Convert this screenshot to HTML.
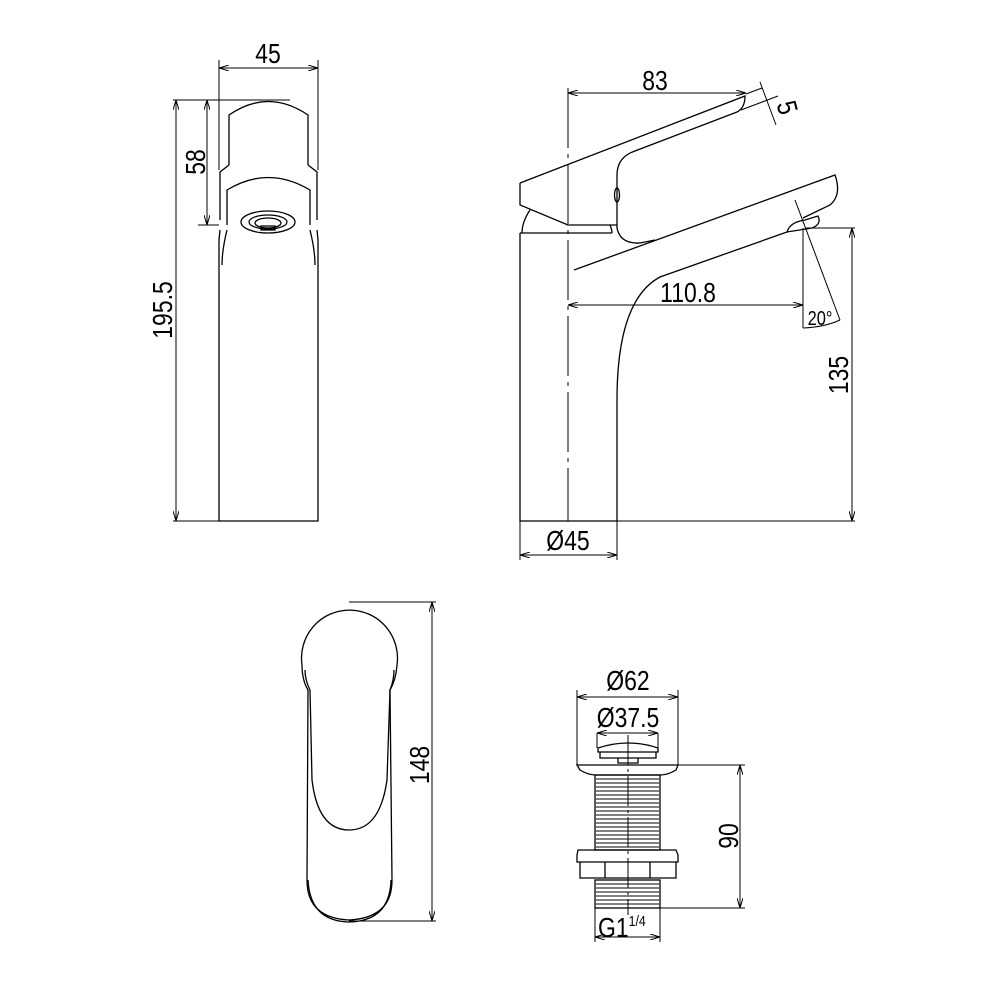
<!DOCTYPE html>
<html><head><meta charset="utf-8"><style>
html,body{margin:0;padding:0;background:#fff}
svg{display:block}
text{font-family:"Liberation Sans",sans-serif;fill:#000}
</style></head><body>
<svg width="1000" height="1000" viewBox="0 0 1000 1000" xmlns="http://www.w3.org/2000/svg">
<defs>
<marker id="a" viewBox="0 0 10 6" refX="10" refY="3" markerWidth="10" markerHeight="6" orient="auto-start-reverse" markerUnits="userSpaceOnUse"><path d="M0,0 L10,3 L0,6" fill="none" stroke="#000" stroke-width="1"/></marker>
</defs>
<g fill="none" stroke="#000" stroke-width="1.3">
<path d="M229,165 L229,115 Q268,88 308,115 L308,165"/>
<path d="M229,165 L220,172 L220,220 M308,165 L317,172 L317,220"/>
<path d="M227,225 L227,190 Q268,165 310,190 L310,225"/>
<path d="M220,230 L219,240 L219,521 L318,521 L318,240 L317,230"/>
<path d="M227,230 Q222,250 222,265 M310,230 Q315,250 315,265"/>
<ellipse cx="268" cy="222" rx="27" ry="11"/>
<ellipse cx="268" cy="222" rx="19" ry="7"/>
<ellipse cx="268" cy="223" rx="13" ry="5"/>
<rect x="261" y="226" width="14" height="4"/>
<g stroke-width="1">
<path d="M219,60 L219,170 M318,60 L318,170"/>
<path d="M219,68 L318,68" marker-start="url(#a)" marker-end="url(#a)"/>
<path d="M173,100 L290,100 M173,521 L219,521 M198,225 L219,225"/>
<path d="M176,100 L176,521" marker-start="url(#a)" marker-end="url(#a)"/>
<path d="M207,100 L207,225" marker-start="url(#a)" marker-end="url(#a)"/>
</g>
<path d="M520,233 L520,521 L617,521 L617,400 Q617,300 660,277 L787,232"/>
<path d="M520,233 L612,233"/>
<path d="M520,183 L745,96 Q745,108 737,112 L635,151 Q617,157 617,175 L617,228 Q620,244 640,243 L655,240"/>
<path d="M520,183 L520,205 L568,225 L617,225"/>
<path d="M530,210 Q522,222 522,233 M610,225 Q612,230 612,233"/>
<path d="M574,270 L835,175 Q842,195 830,205 L803,218"/>
<path d="M787,232 Q790,222 805,220 L818,216 Q822,224 812,228 Z"/>
<ellipse cx="617" cy="195" rx="2.5" ry="7"/>
<path d="M568,88 L568,521" stroke-dasharray="60,6,4,6" stroke-width="1"/>
<g stroke-width="1">
<path d="M568,93 L746,93" marker-start="url(#a)" marker-end="url(#a)"/>
<path d="M741,110 L778,96 M746,94 L762,88"/>
<path d="M760,82 L776,125"/>
<path d="M803,228 L803,328"/>
<path d="M568,305 L803,305" marker-start="url(#a)" marker-end="url(#a)"/>
<path d="M795,200 L840,320"/>
<path d="M803,328 Q825,327 840,320"/>
<path d="M805,228 L855,228 M617,521 L855,521"/>
<path d="M852,228 L852,521" marker-start="url(#a)" marker-end="url(#a)"/>
<path d="M520,521 L520,560 M617,521 L617,560"/>
<path d="M520,555 L617,555" marker-start="url(#a)" marker-end="url(#a)"/>
</g>
<path d="M302,665 A48,48 0 1 1 397,665 Q396,680 390,690 L392,880 Q392,918 349,920 Q307,918 307,880 L308,690 Q302,680 302,665 Z"/>
<path d="M305,670 Q305,680 310,690 L312,780 Q318,830 349,830 Q380,830 387,780 L390,690 Q394,680 394,670"/>
<path d="M308,880 Q310,921 349,922 Q390,921 391,880"/>
<g stroke-width="1">
<path d="M349,602 L436,602 M349,921 L436,921"/>
<path d="M432,602 L432,921" marker-start="url(#a)" marker-end="url(#a)"/>
</g>
<path d="M598,748 Q628,738 658,748 L658,752 L598,752 Z"/>
<path d="M600,752 L600,758 L656,758 L656,752 M618,758 L618,763 L638,763 L638,758"/>
<path d="M577,765 L678,765 L676,770 Q668,775 660,775 L596,775 Q588,775 580,770 Z"/>
<rect x="595" y="775" width="65" height="75"/>
<path d="M577,855 L578,850 L676,850 L678,855 L678,862 L577,862 Z"/>
<path d="M580,862 L580,878 L676,878 L676,862 M605,862 L605,878 M650,862 L650,878"/>
<rect x="595" y="880" width="65" height="28"/>
</g>
<g stroke="#000" stroke-width="1">
<path d="M596,779H659M596,783H659M596,787H659M596,791H659M596,795H659M596,799H659M596,803H659M596,807H659M596,811H659M596,815H659M596,819H659M596,823H659M596,827H659M596,831H659M596,835H659M596,839H659M596,843H659M596,847H659"/>
<path d="M596,884H659M596,888H659M596,892H659M596,896H659M596,900H659M596,904H659"/>
</g>
<g fill="none" stroke="#000" stroke-width="1">
<path d="M628,735 L628,915" stroke-dasharray="30,4,3,4"/>
<path d="M577,690 L577,765 M678,690 L678,765"/>
<path d="M577,697 L678,697" marker-start="url(#a)" marker-end="url(#a)"/>
<path d="M597,733 L597,748 M658,733 L658,748"/>
<path d="M597,733 L658,733" marker-start="url(#a)" marker-end="url(#a)"/>
<path d="M678,765 L745,765 M660,908 L745,908"/>
<path d="M740,765 L740,908" marker-start="url(#a)" marker-end="url(#a)"/>
<path d="M595,908 L595,942 M660,908 L660,942"/>
<path d="M595,937 L660,937" marker-start="url(#a)" marker-end="url(#a)"/>
</g>
<g font-size="28">
<text transform="translate(268,63) scale(0.82,1)" text-anchor="middle">45</text>
<text transform="translate(172,310) rotate(-90) scale(0.82,1)" text-anchor="middle">195.5</text>
<text transform="translate(205,162) rotate(-90) scale(0.82,1)" text-anchor="middle">58</text>
<text transform="translate(655,90) scale(0.82,1)" text-anchor="middle">83</text>
<text transform="translate(778,110) rotate(75) scale(0.82,1)" text-anchor="middle">5</text>
<text transform="translate(688,302) scale(0.82,1)" text-anchor="middle">110.8</text>
<text transform="translate(820,325) scale(0.82,1)" text-anchor="middle" font-size="20">20°</text>
<text transform="translate(848,375) rotate(-90) scale(0.82,1)" text-anchor="middle">135</text>
<text transform="translate(568,550) scale(0.82,1)" text-anchor="middle">Ø45</text>
<text transform="translate(429,765) rotate(-90) scale(0.82,1)" text-anchor="middle">148</text>
<text transform="translate(628,690) scale(0.82,1)" text-anchor="middle">Ø62</text>
<text transform="translate(628,727) scale(0.82,1)" text-anchor="middle">Ø37.5</text>
<text transform="translate(738,836) rotate(-90) scale(0.82,1)" text-anchor="middle">90</text>
<text transform="translate(598,937) scale(0.82,1)">G1<tspan font-size="15" dy="-11">1/4</tspan></text>
</g>
</svg>
</body></html>
